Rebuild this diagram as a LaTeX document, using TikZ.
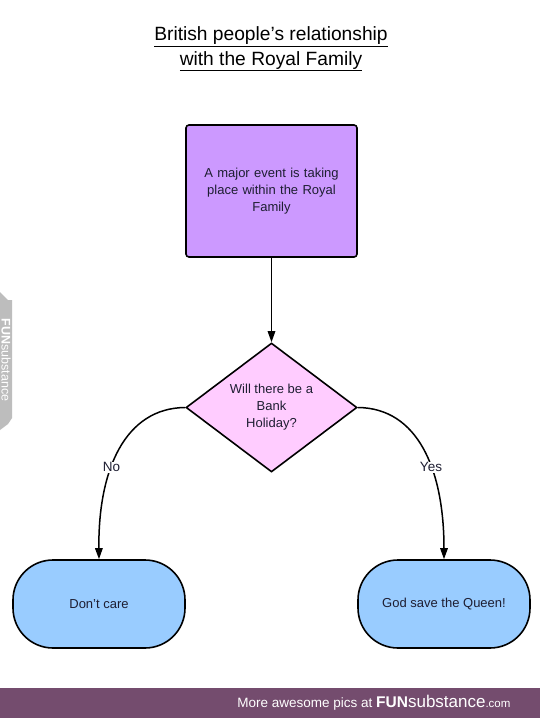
\documentclass[tikz,border=0pt]{standalone}
\usepackage{fontspec}
\setmainfont{Liberation Sans}
\usetikzlibrary{shapes.geometric,arrows.meta}
\definecolor{boxpurple}{HTML}{CC99FF}
\definecolor{diapink}{HTML}{FFCCFF}
\definecolor{termblue}{HTML}{99CCFF}
\definecolor{bannerc}{HTML}{744C6E}
\definecolor{tabgrey}{HTML}{BDBDBD}
\definecolor{txt}{HTML}{1E1E32}
\tikzset{
  procbox/.style={draw=black, line width=1.6pt, fill=boxpurple, rounded corners=3pt,
    minimum width=171pt, minimum height=132pt, inner sep=0pt, align=center,
    font=\fontsize{13}{17}\selectfont, text=txt, text width=160pt},
  decbox/.style={draw=black, line width=1.6pt, fill=diapink, diamond, aspect=1.32,
    minimum width=171pt, minimum height=129pt, inner sep=0pt, align=center,
    font=\fontsize{13}{17}\selectfont, text=txt},
  termbox/.style={draw=black, line width=1.6pt, fill=termblue, rounded corners=40pt,
    minimum width=172pt, minimum height=88pt, inner sep=0pt, align=center,
    font=\fontsize{13}{15}\selectfont, text=txt},
  conn/.style={line width=1.5pt, -{Triangle[length=11pt,width=7.5pt]}},
  lbl/.style={fill=white, inner sep=1pt, font=\fontsize{13.5}{15}\selectfont, text=txt},
}
\begin{document}
\begin{tikzpicture}[x=1pt,y=-1pt]
\useasboundingbox (0,0) rectangle (540,718);
\fill[white] (0,0) rectangle (540,718);
% title
\node[font=\fontsize{19.2}{24.5}\selectfont, align=center, text=black] (title) at (271,49)
  {\underline{British people's relationship}\\\underline{with the Royal Family}};
% nodes
\node[procbox] (event) at (271.5,191) {A major event is taking\\place within the Royal\\Family};
\node[decbox] (bank) at (271.5,407.5) {Will there be a\\Bank\\Holiday?};
\node[termbox] (nocare) at (99,604) {Don't care};
\node[termbox] (gsq) at (444,604) {God save the Queen!};
% connectors
\draw[conn] (bank.west) .. controls (125,408) and (98,470) .. (nocare.north)
  node[lbl, pos=0.6] (nolbl) {No};
\draw[conn] (bank.east) .. controls (418,408) and (444,470) .. (gsq.north)
  node[lbl, pos=0.6] (yeslbl) {Yes};
\draw[conn] (event.south) -- (bank.north);
% side tab
\fill[tabgrey] (0,292) -- (8,300) -- (12,300) -- (12,418) -- (8,424) -- (0,430) -- cycle;
\node[rotate=-90, text=white, font=\fontsize{12.5}{13}\selectfont] (tab) at (6,360)
  {\textbf{FUN}substance};
% banner
\fill[bannerc] (0,688) rectangle (540,718);
\node[anchor=east, text=white, font=\fontsize{13.5}{14}\selectfont] (banner) at (514,703)
  {More awesome pics at \textbf{\fontsize{15.5}{14}\selectfont FUN}{\fontsize{17}{14}\selectfont substance}{\fontsize{11.5}{14}\selectfont .com}};
\end{tikzpicture}
\end{document}
